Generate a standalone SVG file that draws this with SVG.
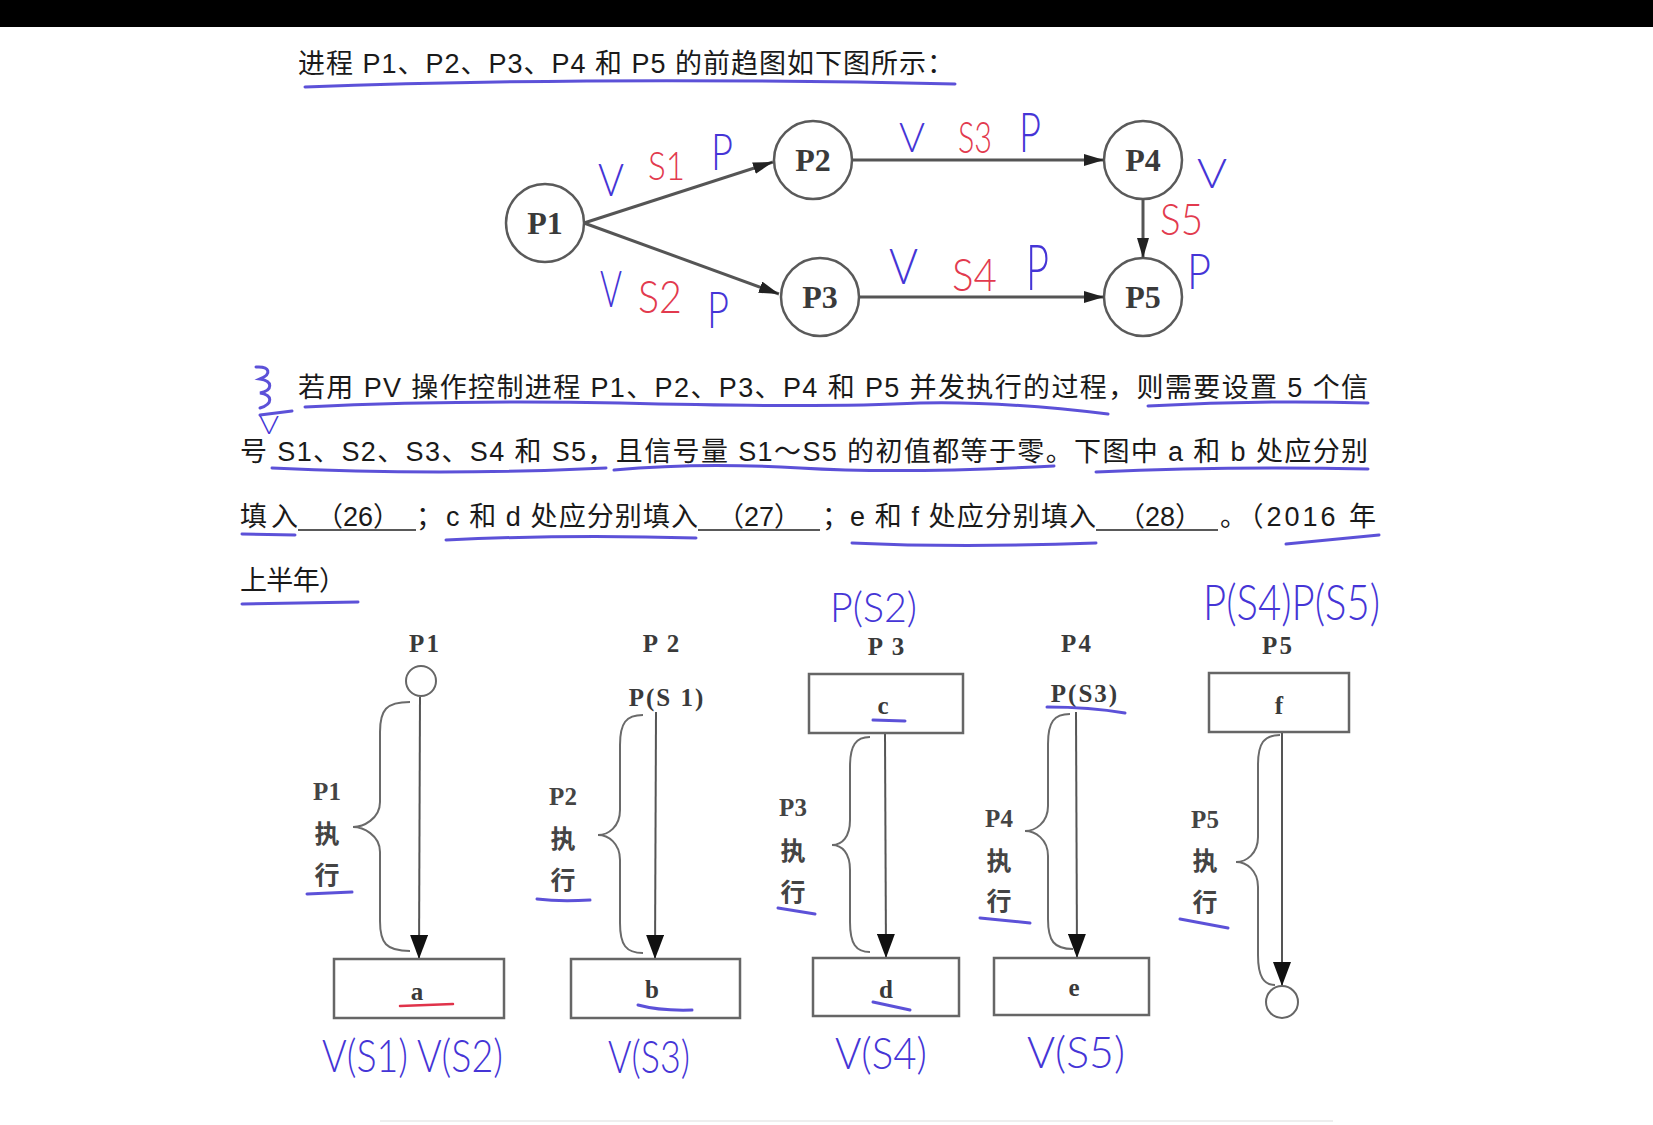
<svg xmlns="http://www.w3.org/2000/svg" width="1653" height="1125" viewBox="0 0 1653 1125">
<style>
.para{font-family:"Liberation Sans","Noto Sans CJK SC",sans-serif;font-size:27px;fill:#1a1a1a}
.node circle{fill:#fff;stroke:#5a5a5a;stroke-width:2.5}
.node text{font-family:"Liberation Serif","Noto Sans CJK SC",serif;font-size:32px;font-weight:bold;fill:#3a3a3a;text-anchor:middle}
.edge{stroke:#555;stroke-width:3;fill:none}
.box{fill:#fff;stroke:#666;stroke-width:2.5}
.flow{stroke:#555;stroke-width:2;fill:none}
.brace{stroke:#6a6a6a;stroke-width:2;fill:none}
.lbl{font-family:"Liberation Serif","Noto Sans CJK SC",serif;font-size:25px;font-weight:bold;fill:#3a3a3a;text-anchor:middle;letter-spacing:2px}
.side{font-family:"Liberation Serif","Noto Sans CJK SC",serif;font-size:25px;font-weight:bold;fill:#444;text-anchor:middle}
.hw{font-family:"Lato","Noto Sans","Liberation Sans",sans-serif;font-weight:300;fill:#4535d6}
.hwr{font-family:"Lato","Noto Sans","Liberation Sans",sans-serif;font-weight:300;fill:#e23a4e}
.ul{stroke:#4a3ed4;stroke-width:3;fill:none;stroke-linecap:round;opacity:0.9}
.ulr{stroke:#e0334a;stroke-width:2.5;fill:none;stroke-linecap:round}
.blank{stroke:#222;stroke-width:1.5}
</style>
<defs>
<marker id="arrG" viewBox="0 0 20 12" refX="20" refY="6" markerWidth="20" markerHeight="12" markerUnits="userSpaceOnUse" orient="auto">
<path d="M0,0 L20,6 L0,12 Z" fill="#222"/>
</marker>
<marker id="arrL" viewBox="0 0 24 18" refX="24" refY="9" markerWidth="24" markerHeight="18" markerUnits="userSpaceOnUse" orient="auto">
<path d="M0,0 L24,9 L0,18 Z" fill="#111"/>
</marker>
</defs>
<rect x="0" y="0" width="1653" height="1125" fill="#fff"/>
<rect x="0" y="0" width="1653" height="27" fill="#000"/>

<!-- paragraph text -->
<g id="text">
<text class="para" x="298" y="73" textLength="656" lengthAdjust="spacing">进程 P1、P2、P3、P4 和 P5 的前趋图如下图所示：</text>
<text class="para" x="298" y="397" textLength="1070" lengthAdjust="spacing">若用 PV 操作控制进程 P1、P2、P3、P4 和 P5 并发执行的过程，则需要设置 5 个信</text>
<text class="para" x="240" y="461" textLength="1128" lengthAdjust="spacing">号 S1、S2、S3、S4 和 S5，且信号量 S1～S5 的初值都等于零。下图中 a 和 b 处应分别</text>
<text class="para" x="240" y="526" textLength="58" lengthAdjust="spacing">填入</text>
<text class="para" x="358" y="526" text-anchor="middle">（26）</text>
<line class="blank" x1="298" y1="530" x2="416" y2="530"/>
<text class="para" x="416" y="526">；</text>
<text class="para" x="446" y="526" textLength="252" lengthAdjust="spacing">c 和 d 处应分别填入</text>
<text class="para" x="759" y="526" text-anchor="middle">（27）</text>
<line class="blank" x1="698" y1="530" x2="820" y2="530"/>
<text class="para" x="822" y="526">；</text>
<text class="para" x="850" y="526" textLength="246" lengthAdjust="spacing">e 和 f 处应分别填入</text>
<text class="para" x="1160" y="526" text-anchor="middle">（28）</text>
<line class="blank" x1="1096" y1="530" x2="1218" y2="530"/>
<text class="para" x="1220" y="526" textLength="156" lengthAdjust="spacing">。（2016 年</text>
<text class="para" x="240" y="590" textLength="106" lengthAdjust="spacing">上半年）</text>
</g>

<!-- precedence graph nodes -->
<g id="node-P1" class="node"><circle cx="545" cy="223" r="39"/><text x="545" y="234">P1</text></g>
<g id="node-P2" class="node"><circle cx="813" cy="160" r="39"/><text x="813" y="171">P2</text></g>
<g id="node-P3" class="node"><circle cx="820" cy="297" r="39"/><text x="820" y="308">P3</text></g>
<g id="node-P4" class="node"><circle cx="1143" cy="160" r="39"/><text x="1143" y="171">P4</text></g>
<g id="node-P5" class="node"><circle cx="1143" cy="297" r="39"/><text x="1143" y="308">P5</text></g>

<g id="connectors">
<line class="edge" x1="584" y1="223" x2="773" y2="162" marker-end="url(#arrG)"/>
<line class="edge" x1="584" y1="223" x2="779" y2="294" marker-end="url(#arrG)"/>
<line class="edge" x1="852" y1="160" x2="1104" y2="160" marker-end="url(#arrG)"/>
<line class="edge" x1="859" y1="297" x2="1104" y2="297" marker-end="url(#arrG)"/>
<line class="edge" x1="1143" y1="199" x2="1143" y2="258" marker-end="url(#arrG)"/>
<!-- lower diagram flow arrows -->
<line class="flow" x1="420" y1="697" x2="419" y2="959" marker-end="url(#arrL)"/>
<line class="flow" x1="656" y1="712" x2="655" y2="959" marker-end="url(#arrL)"/>
<line class="flow" x1="885" y1="734" x2="886" y2="958" marker-end="url(#arrL)"/>
<line class="flow" x1="1076" y1="712" x2="1077" y2="958" marker-end="url(#arrL)"/>
<line class="flow" x1="1282" y1="733" x2="1282" y2="986" marker-end="url(#arrL)"/>
</g>

<!-- lower diagram columns -->
<g id="col-P1">
<text class="lbl" x="425" y="652">P1</text>
<circle cx="421" cy="681" r="15" fill="#fff" stroke="#666" stroke-width="2"/>
<path class="brace" d="M410,702 C386,702 380,710 380,732 L380,802 C380,819 363,827 353,827 C363,827 380,835 380,852 L380,921 C380,943 386,951 410,951"/>
<text class="side" x="327" y="800">P1</text>
<text class="side" x="327" y="843">执</text>
<text class="side" x="327" y="884">行</text>
<rect class="box" x="334" y="959" width="170" height="59"/>
<text class="lbl" x="418" y="1000" font-size="26">a</text>
</g>
<g id="col-P2">
<text class="lbl" x="662" y="652">P 2</text>
<text class="lbl" x="667" y="706">P(S 1)</text>
<path class="brace" d="M643,715 C626,715 620,723 620,745 L620,810 C620,827 608,835 598,835 C608,835 620,843 620,860 L620,923 C620,945 626,953 643,953"/>
<text class="side" x="563" y="805">P2</text>
<text class="side" x="563" y="848">执</text>
<text class="side" x="563" y="889">行</text>
<rect class="box" x="571" y="959" width="169" height="59"/>
<text class="lbl" x="653" y="998" font-size="26">b</text>
</g>
<g id="col-P3">
<text class="lbl" x="887" y="655">P 3</text>
<rect class="box" x="809" y="674" width="154" height="59"/>
<text class="lbl" x="884" y="714" font-size="26">c</text>
<path class="brace" d="M870,737 C856,737 850,745 850,767 L850,820 C850,837 842,845 832,845 C842,845 850,853 850,870 L850,922 C850,944 856,952 870,952"/>
<text class="side" x="793" y="816">P3</text>
<text class="side" x="793" y="860">执</text>
<text class="side" x="793" y="901">行</text>
<rect class="box" x="813" y="958" width="146" height="58"/>
<text class="lbl" x="887" y="998" font-size="26">d</text>
</g>
<g id="col-P4">
<text class="lbl" x="1077" y="652">P4</text>
<text class="lbl" x="1085" y="702">P(S3)</text>
<path class="brace" d="M1070,714 C1054,714 1048,722 1048,744 L1048,806 C1048,823 1035,831 1025,831 C1035,831 1048,839 1048,856 L1048,919 C1048,941 1054,949 1073,949"/>
<text class="side" x="999" y="827">P4</text>
<text class="side" x="999" y="870">执</text>
<text class="side" x="999" y="910">行</text>
<rect class="box" x="994" y="958" width="155" height="57"/>
<text class="lbl" x="1075" y="996" font-size="26">e</text>
</g>
<g id="col-P5">
<text class="lbl" x="1278" y="654">P5</text>
<rect class="box" x="1209" y="673" width="140" height="59"/>
<text class="lbl" x="1280" y="714" font-size="26">f</text>
<path class="brace" d="M1280,735 C1264,735 1258,743 1258,765 L1258,837 C1258,854 1246,862 1236,862 C1246,862 1258,870 1258,887 L1258,955 C1258,977 1264,985 1275,985"/>
<text class="side" x="1205" y="828">P5</text>
<text class="side" x="1205" y="870">执</text>
<text class="side" x="1205" y="911">行</text>
<circle cx="1282" cy="1002" r="16" fill="#fff" stroke="#666" stroke-width="2"/>
</g>

<!-- handwritten annotations -->
<g id="handwriting">
<text class="hw" x="598" y="196" font-size="46" textLength="26" lengthAdjust="spacingAndGlyphs">V</text>
<text class="hwr" x="648" y="180" font-size="40" textLength="37" lengthAdjust="spacingAndGlyphs">S1</text>
<text class="hw" x="711" y="170" font-size="52" textLength="22" lengthAdjust="spacingAndGlyphs">P</text>
<text class="hw" x="600" y="307" font-size="52" textLength="22" lengthAdjust="spacingAndGlyphs">V</text>
<text class="hwr" x="638" y="313" font-size="46" textLength="44" lengthAdjust="spacingAndGlyphs">S2</text>
<text class="hw" x="707" y="328" font-size="52" textLength="22" lengthAdjust="spacingAndGlyphs">P</text>
<text class="hw" x="899" y="152" font-size="42" textLength="26" lengthAdjust="spacingAndGlyphs">V</text>
<text class="hwr" x="958" y="153" font-size="44" textLength="34" lengthAdjust="spacingAndGlyphs">S3</text>
<text class="hw" x="1019" y="152" font-size="56" textLength="22" lengthAdjust="spacingAndGlyphs">P</text>
<text class="hw" x="1197" y="188" font-size="42" textLength="30" lengthAdjust="spacingAndGlyphs">V</text>
<text class="hwr" x="1160" y="235" font-size="44" textLength="43" lengthAdjust="spacingAndGlyphs">S5</text>
<text class="hw" x="1187" y="289" font-size="50" textLength="24" lengthAdjust="spacingAndGlyphs">P</text>
<text class="hw" x="889" y="284" font-size="50" textLength="29" lengthAdjust="spacingAndGlyphs">V</text>
<text class="hwr" x="952" y="291" font-size="46" textLength="45" lengthAdjust="spacingAndGlyphs">S4</text>
<text class="hw" x="1026" y="290" font-size="64" textLength="23" lengthAdjust="spacingAndGlyphs">P</text>

<text class="hw" x="830" y="622" font-size="42" textLength="87" lengthAdjust="spacingAndGlyphs">P(S2)</text>
<text class="hw" x="1203" y="620" font-size="50" textLength="177" lengthAdjust="spacingAndGlyphs">P(S4)P(S5)</text>
<text class="hw" x="322" y="1072" font-size="46" textLength="181" lengthAdjust="spacingAndGlyphs">V(S1) V(S2)</text>
<text class="hw" x="608" y="1073" font-size="46" textLength="82" lengthAdjust="spacingAndGlyphs">V(S3)</text>
<text class="hw" x="835" y="1069" font-size="44" textLength="92" lengthAdjust="spacingAndGlyphs">V(S4)</text>
<text class="hw" x="1027" y="1068" font-size="44" textLength="98" lengthAdjust="spacingAndGlyphs">V(S5)</text>

<!-- scribble near paragraph -->
<path class="ul" stroke-width="2" d="M256,367 C270,366 272,374 260,379 C273,381 273,390 260,393 C273,395 273,404 260,408"/>
<line class="ul" stroke-width="2" x1="260" y1="415" x2="292" y2="411"/>
<text class="hw" x="259" y="434" font-size="26" textLength="20" lengthAdjust="spacingAndGlyphs">V</text>

<!-- underlines -->
<path class="ul" d="M305,87 Q600,76 955,84"/>
<path class="ul" d="M305,407 Q450,400 620,403 Q820,408 920,403 Q1000,401 1108,414"/>
<path class="ul" d="M1148,406 Q1260,400 1368,403"/>
<path class="ul" d="M272,468 Q440,476 606,468"/>
<path class="ul" d="M614,470 Q700,462 800,468 Q900,474 1054,466"/>
<path class="ul" d="M1096,472 Q1230,466 1368,469"/>
<path class="ul" d="M242,534 L295,535"/>
<path class="ul" d="M446,540 Q570,534 696,538"/>
<path class="ul" d="M852,543 Q960,548 1096,543"/>
<path class="ul" d="M1286,544 L1379,535"/>
<path class="ul" d="M242,604 L358,602"/>
<path class="ul" d="M307,894 L352,892"/>
<path class="ul" d="M537,899 Q560,902 590,900"/>
<path class="ul" d="M778,908 L815,914"/>
<path class="ul" d="M980,918 L1030,923"/>
<path class="ul" d="M1180,919 L1228,928"/>
<path class="ulr" d="M400,1006 L453,1004"/>
<path class="ul" d="M638,1005 Q660,1011 692,1010"/>
<path class="ul" d="M873,720 L905,721"/>
<path class="ul" d="M873,1002 L910,1010"/>
<path class="ul" d="M1047,707 Q1090,707 1125,713"/>
</g>
<line x1="380" y1="1121" x2="1333" y2="1121" stroke="#eee" stroke-width="2"/>
</svg>
